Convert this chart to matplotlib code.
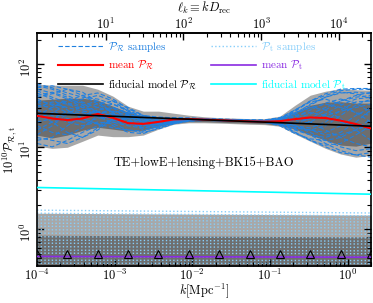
import numpy as np
import matplotlib
matplotlib.use('Agg')
import matplotlib.pyplot as plt

plt.rcParams.update({
    'font.family': 'serif',
    'font.serif': ['cmr10'],
    'mathtext.fontset': 'cm',
    'axes.formatter.use_mathtext': True,
    'font.size': 9,
    'axes.linewidth': 1.2,
})

''' k range, distance to recombination '''
k_min, k_max = 1e-4, 2.0
D_rec = 13000.0
k_ends = [k_min, k_max]
ell_ticks = [1e1, 1e2, 1e3, 1e4]

''' P_R band edges and mean, read on 23 log-spaced k points '''
pr_light_up = [57.5, 55.9, 55.9, 55.9, 50.0, 41.2, 31.1, 27.1, 27.1, 25.6, 24.2, 23.2,
               22.6, 22.3, 22.0, 22.0, 23.6, 32.0, 42.3, 47.3, 50.8, 49.3, 48.7]
pr_dark_up = [36.8, 37.8, 38.9, 38.9, 36.8, 31.1, 26.3, 23.6, 22.9, 22.6, 22.3, 22.0,
              21.7, 21.4, 21.1, 21.1, 21.7, 26.3, 32.0, 34.8, 35.3, 33.9, 33.9]
pr_dark_lo = [13.9, 12.8, 13.9, 15.9, 17.3, 16.4, 15.5, 15.9, 17.8, 19.4, 20.2, 20.2,
              19.9, 19.6, 19.4, 19.1, 18.3, 16.4, 13.9, 12.05, 10.5, 10.2, 11.1]
pr_light_lo = [10.2, 9.6, 9.9, 11.7, 13.9, 13.3, 13.3, 13.9, 16.4, 18.8, 19.6, 19.6,
               19.4, 19.1, 18.8, 18.6, 17.8, 14.3, 11.7, 9.6, 8.2, 7.5, 7.9]
pr_mean = [23.8, 22.1, 21.1, 22.1, 25.1, 22.5, 19.4, 19.0, 20.1, 21.5, 21.8, 21.4,
           21.1, 20.7, 20.4, 20.2, 20.5, 21.7, 22.7, 22.4, 20.8, 18.9, 16.7]
pr_fid = [25.5, 17.8]

pr_samples = [
    [58, 52, 45, 40, 38, 33, 27, 24, 23, 22.5, 22, 21.5, 21.2, 21, 20.7, 20.5, 20, 18, 15, 12, 10, 9, 9.5],
    [11, 10, 12, 15, 18, 20, 19, 18, 19, 20, 21, 21, 20.8, 20.6, 20.4, 20.3, 21.5, 27, 36, 44, 50, 51, 51],
    [40, 44, 50, 46, 35, 26, 20, 17, 18, 20, 21.5, 21.5, 21.2, 20.9, 20.6, 20.4, 20, 19, 20, 25, 32, 38, 40],
    [25, 20, 15, 13, 16, 22, 25, 22, 19, 19.5, 20.5, 21, 20.9, 20.7, 20.5, 20.2, 19, 15, 12, 10.5, 11, 14, 18],
    [30, 35, 33, 28, 30, 33, 28, 22, 20, 21, 22, 21.8, 21.5, 21.2, 21, 20.9, 22, 28, 35, 38, 33, 26, 20],
    [18, 15, 14, 17, 24, 30, 26, 19, 17, 19, 21, 21.2, 21, 20.8, 20.5, 20, 18.5, 16, 14, 13, 15, 20, 28],
    [50, 45, 38, 30, 26, 24, 23, 21, 20.5, 21, 21.5, 21.4, 21.3, 21.1, 21, 21, 22.5, 26, 30, 28, 22, 16, 12],
    [14, 18, 25, 32, 36, 30, 21, 16, 17.5, 20, 21.2, 21.3, 21.1, 20.8, 20.6, 20.5, 20.5, 22, 25, 30, 36, 42, 46],
    [35, 28, 22, 20, 22, 25, 23, 20, 19.5, 20.5, 21.3, 21.2, 21, 20.8, 20.6, 20.5, 21, 24, 20, 16, 13, 11, 10],
    [22, 26, 32, 38, 42, 36, 27, 22, 21, 21.5, 21.8, 21.5, 21.3, 21, 20.8, 20.5, 19.5, 17, 16, 18, 24, 32, 38],
    [45, 38, 28, 22, 19, 17, 16, 15.5, 18, 20.5, 21.5, 21.5, 21.3, 21, 20.7, 20.4, 21, 25, 33, 40, 45, 46, 44],
    [12, 13, 18, 24, 27, 25, 21, 19, 20, 21, 21.7, 21.6, 21.4, 21.1, 20.9, 20.6, 19.8, 18, 17, 20, 28, 35, 36],
    [28, 24, 20, 18, 20, 19, 16, 15, 16.5, 19, 20.5, 20.9, 20.8, 20.5, 20.2, 19.8, 18.5, 15, 12, 10, 8.5, 8, 8.5],
    [55, 50, 42, 35, 30, 27, 24, 23.5, 22.5, 22.5, 22.5, 22, 21.8, 21.5, 21.3, 21.2, 22.5, 28, 36, 42, 48, 50, 50],
    [20, 22, 27, 26, 23, 20, 18, 17, 19, 20.5, 21, 21, 20.8, 20.6, 20.3, 20, 19, 17, 16, 15, 18, 24, 30],
    [38, 32, 26, 24, 28, 30, 25, 20, 20, 21, 21.6, 21.4, 21.2, 21, 20.8, 20.6, 21, 23, 28, 34, 38, 34, 26],
    [48, 40, 34, 30, 33, 36, 30, 24, 21, 21, 21.8, 21.6, 21.4, 21.2, 21, 20.8, 22, 26, 32, 40, 46, 44, 38],
    [16, 20, 22, 20, 19, 21, 22, 20, 18.5, 19.5, 20.8, 21, 20.9, 20.6, 20.3, 20, 18, 14.5, 12.5, 12, 13, 16, 22],
    [42, 46, 40, 32, 25, 21, 19, 18, 19, 20, 21, 21.2, 21, 20.8, 20.6, 20.4, 20.5, 21, 22, 24, 27, 30, 33],
    [32, 30, 36, 42, 45, 38, 29, 24, 22, 21.5, 21.6, 21.5, 21.3, 21, 20.8, 20.7, 21.8, 24, 26, 24, 20, 18, 16],
    [24, 30, 38, 34, 26, 18, 15, 14.5, 17, 19.5, 20.8, 21, 20.8, 20.6, 20.4, 20.1, 19.5, 19.5, 22, 28, 36, 40, 42],
    [13, 12, 11, 13, 17, 22, 24, 21, 18.5, 19.5, 21, 21.2, 21, 20.8, 20.5, 20.2, 19, 16.5, 14, 11, 9, 8, 7.5],
    [36, 33, 30, 27, 26, 27, 26, 23, 21, 21, 21.4, 21.3, 21.2, 21, 20.8, 20.6, 21.5, 25, 30, 33, 30, 26, 24],
    [52, 55, 50, 42, 33, 26, 21, 19, 20, 21, 21.6, 21.5, 21.3, 21, 20.8, 20.5, 20, 18, 16, 14, 14, 16, 19],
]

''' P_t: nearly flat, given at both ends of the k range '''
pt_light_up = [1.57, 1.49]
pt_dark_up = [0.85, 0.81]
pt_band_lo = [0.3, 0.3]
pt_mean = [0.47, 0.46]
pt_fid = [3.22, 2.67]
pt_samples_left = [1.71, 1.57, 1.43, 1.31, 1.19, 1.09, 0.99, 0.90, 0.815, 0.74, 0.68,
                   0.617, 0.56, 0.515, 0.467, 0.423, 0.389]
pt_samples_right = [1.58, 1.46, 1.34, 1.23, 1.13, 1.04, 0.95, 0.87, 0.79, 0.72, 0.665,
                    0.605, 0.55, 0.507, 0.461, 0.419, 0.386]
node_marker_y = 0.5

k_grid = np.logspace(np.log10(k_min), np.log10(k_max), len(pr_mean))
k_nodes = k_grid[::2]

c_samp = '#2080e0'
c_tsamp = 'lightskyblue'
c_light = '#a8a8a8'
c_dark = '#6e6e6e'

fig = plt.figure(figsize=(3.73, 3.03), dpi=100)
ax = fig.add_axes([37/373., 37/303., 334/373., 233/303.])

ax.fill_between(k_grid, pr_light_lo, pr_light_up, color=c_light, lw=0, zorder=1)
ax.fill_between(k_grid, pr_dark_lo, pr_dark_up, color=c_dark, lw=0, zorder=1.1)
ax.fill_between(k_ends, pt_band_lo, pt_light_up, color=c_light, lw=0, zorder=1)
ax.fill_between(k_ends, pt_band_lo, pt_dark_up, color=c_dark, lw=0, zorder=1.1)

for s in pr_samples:
    lR, = ax.plot(k_grid, s, '--', color=c_samp, lw=0.8, dashes=(4, 2), zorder=2)
for a, b in zip(pt_samples_left, pt_samples_right):
    lT, = ax.plot(k_ends, [a, b], ':', color=c_tsamp, lw=1.0, zorder=2)

lRm, = ax.plot(k_grid, pr_mean, '-', color='red', lw=1.5, zorder=3)
lRf, = ax.plot(k_ends, pr_fid, '-', color='black', lw=1.2, zorder=3)
lTm, = ax.plot(k_ends, pt_mean, '-', color='blueviolet', lw=1.2, zorder=3)
lTf, = ax.plot(k_ends, pt_fid, '-', color='cyan', lw=1.2, zorder=3)
ax.plot(k_nodes, [node_marker_y] * len(k_nodes), '^', ms=5.5, mfc='none',
        mec='black', mew=0.8, zorder=4)

ax.set_xscale('log')
ax.set_yscale('log')
ax.set_xlim(k_min, k_max)
ax.set_ylim(0.36, 240)

ax.set_xlabel(r'$k[\mathrm{Mpc}^{-1}]$')
ax.xaxis.set_label_coords(0.5, -0.068)
ax.set_ylabel(r'$10^{10}\mathcal{P}_{\mathcal{R},\mathrm{t}}$')
ax.yaxis.set_label_coords(-0.053, 0.5)
ax.tick_params(which='both', direction='in', right=True, top=False)
ax.tick_params(which='major', length=5, width=1.0)
ax.tick_params(which='minor', length=3, width=0.8)
ax.tick_params(axis='y', labelrotation=90, pad=2)
ax.tick_params(axis='x', pad=1.5)

sec = ax.secondary_xaxis('top', functions=(lambda k: k * D_rec, lambda l: l / D_rec))
sec.set_xticks(ell_ticks)
sec.tick_params(which='both', direction='in')
sec.tick_params(which='major', length=5, width=1.0, pad=0.5)
sec.tick_params(which='minor', length=3, width=0.8)
sec.set_xlabel(r'$\ell_k \equiv kD_\mathrm{rec}$')
sec.xaxis.set_label_coords(0.5, 1.09, transform=ax.transAxes)

ax.text(0.5, 0.442, 'TE+lowE+lensing+BK15+BAO', transform=ax.transAxes,
        ha='center', va='center')

hnd = [lR, lRm, lRf, lT, lTm, lTf]
lab = [r'$\mathcal{P}_\mathcal{R}$ samples', r'mean $\mathcal{P}_\mathcal{R}$',
       r'fiducial model $\mathcal{P}_\mathcal{R}$',
       r'$\mathcal{P}_\mathrm{t}$ samples', r'mean $\mathcal{P}_\mathrm{t}$',
       r'fiducial model $\mathcal{P}_\mathrm{t}$']
ax.legend(hnd, lab, ncol=2, loc='upper left', bbox_to_anchor=(0.05, 0.989),
          borderaxespad=0, frameon=False, fontsize=8, handlelength=4.0,
          handletextpad=0.45, columnspacing=1.35, labelspacing=0.4,
          labelcolor='linecolor')

fig.savefig('out.png', dpi=100)
